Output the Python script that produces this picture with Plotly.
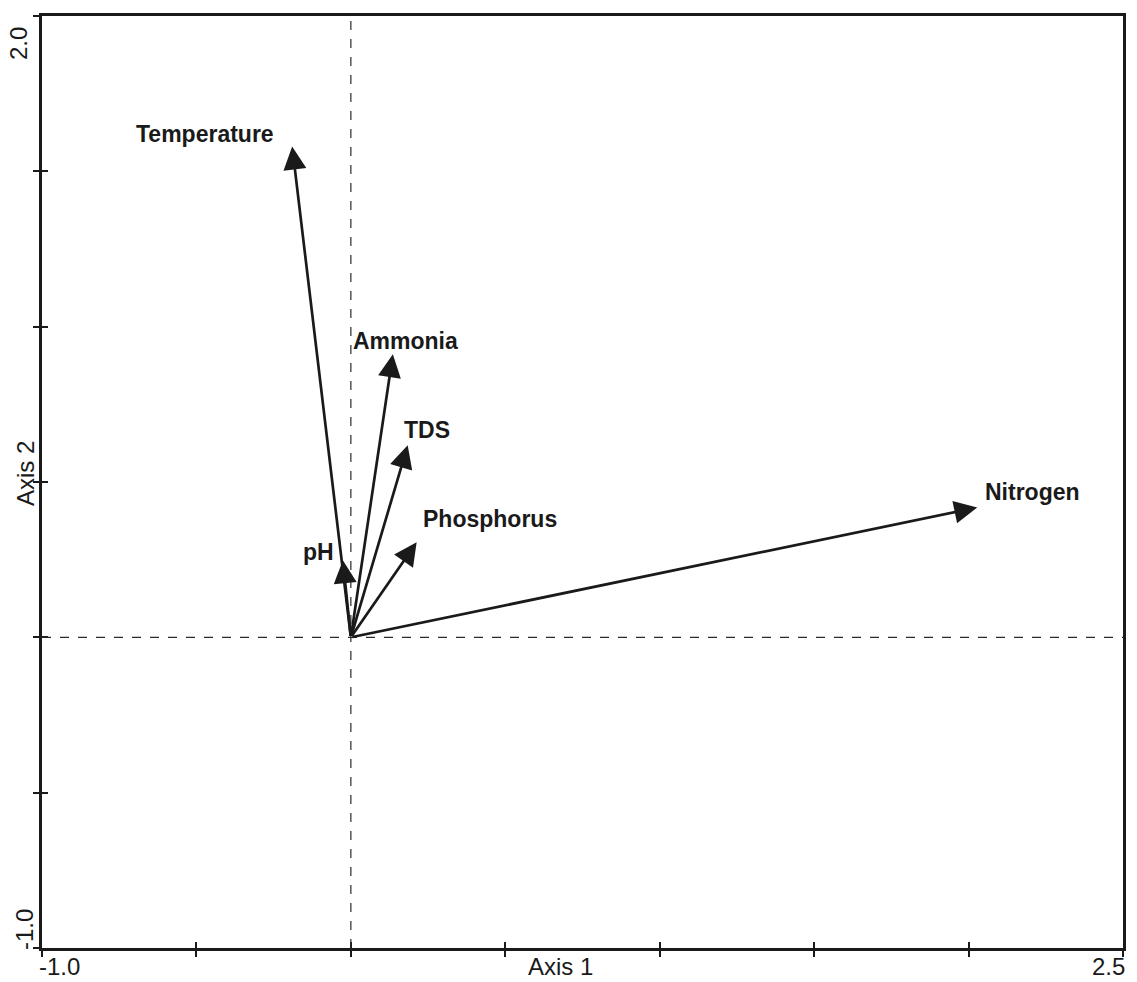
import plotly.graph_objects as go

# Biplot vectors for environmental variables (Axis 1, Axis 2 scores)
variables = ["Temperature", "Ammonia", "TDS", "Phosphorus", "pH", "Nitrogen"]
axis1_scores = [-0.19, 0.136, 0.184, 0.213, -0.026, 2.028]
axis2_scores = [1.58, 0.911, 0.618, 0.306, 0.248, 0.418]

# Label offsets from arrow tips (pixels)
label_dx = [-87, 13, 19, 73, -24, 55]
label_dy = [12, 13, 15, 23, 8, 15]

x_range = [-1.0, 2.5]
y_range = [-1.0, 2.0]
x_ticks = [-1.0, -0.5, 0.0, 0.5, 1.0, 1.5, 2.0, 2.5]
y_ticks = [-1.0, -0.5, 0.0, 0.5, 1.0, 1.5, 2.0]

fig = go.Figure()

# invisible trace to anchor the axes
fig.add_trace(go.Scatter(x=[0], y=[0], mode="markers",
                         marker=dict(size=1, color="rgba(0,0,0,0)"),
                         hoverinfo="skip", showlegend=False))

axis_common = dict(showgrid=False, zeroline=False, showline=True,
                   linecolor="#1a1a1a", linewidth=2.5, mirror=True,
                   ticks="outside", ticklen=6, tickwidth=2, tickcolor="#1a1a1a",
                   showticklabels=False)

fig.update_layout(
    width=1137, height=982,
    margin=dict(l=42, r=11, t=16, b=34),
    paper_bgcolor="white", plot_bgcolor="white",
    xaxis=dict(range=x_range, tickvals=x_ticks, **axis_common),
    yaxis=dict(range=y_range, tickvals=y_ticks, **axis_common),
    # second pair of axes gives ticks that cross the frame line
    xaxis2=dict(range=x_range, tickvals=x_ticks, overlaying="x", side="bottom",
                showgrid=False, zeroline=False, showline=False,
                ticks="inside", ticklen=6, tickwidth=2, tickcolor="#1a1a1a",
                showticklabels=False),
    yaxis2=dict(range=y_range, tickvals=y_ticks, overlaying="y", side="left",
                showgrid=False, zeroline=False, showline=False,
                ticks="inside", ticklen=6, tickwidth=2, tickcolor="#1a1a1a",
                showticklabels=False),
    showlegend=False,
    font=dict(family="Liberation Sans, Arial, sans-serif", color="#1a1a1a"),
)

fig.add_trace(go.Scatter(x=[0], y=[0], xaxis="x2", yaxis="y2", mode="markers",
                         marker=dict(size=1, color="rgba(0,0,0,0)"),
                         hoverinfo="skip", showlegend=False))

# dashed reference lines through the origin
dash_style = dict(color="#2a2a2a", width=1.2, dash="dash")
fig.add_shape(type="line", xref="x", yref="paper", x0=0, x1=0, y0=0, y1=1, line=dash_style)
fig.add_shape(type="line", xref="paper", yref="y", x0=0, x1=1, y0=0, y1=0, line=dash_style)

# vectors from the origin
for name, xv, yv, dx, dy in zip(variables, axis1_scores, axis2_scores, label_dx, label_dy):
    fig.add_annotation(x=xv, y=yv, ax=0, ay=0, xref="x", yref="y", axref="x", ayref="y",
                       text="", showarrow=True, arrowhead=2, arrowsize=1.7,
                       arrowwidth=2.7, arrowcolor="#1a1a1a", standoff=0)
    fig.add_annotation(x=xv, y=yv, xref="x", yref="y", text=f"<b>{name}</b>",
                       showarrow=False, xanchor="center", yanchor="middle",
                       xshift=dx, yshift=dy,
                       font=dict(size=23, color="#1a1a1a"))

# axis titles and end-point tick labels
fig.add_annotation(x=(562 - 42) / 1084, y=-(967 - 948) / 932, xref="paper", yref="paper",
                   text="Axis 1", showarrow=False, xanchor="center", yanchor="middle",
                   font=dict(size=24))
fig.add_annotation(x=-(42 - 25) / 1084, y=(948 - 474) / 932, xref="paper", yref="paper",
                   text="Axis 2", showarrow=False, xanchor="center", yanchor="middle",
                   textangle=-90, font=dict(size=24))
fig.add_annotation(x=(60 - 42) / 1084, y=-(967 - 948) / 932, xref="paper", yref="paper",
                   text=f"{x_range[0]:.1f}", showarrow=False, xanchor="center", yanchor="middle",
                   font=dict(size=24))
fig.add_annotation(x=(1111 - 42) / 1084, y=-(966 - 948) / 932, xref="paper", yref="paper",
                   text=f"{x_range[1]:.1f}", showarrow=False, xanchor="center", yanchor="middle",
                   font=dict(size=24))
fig.add_annotation(x=-(42 - 18) / 1084, y=(948 - 44) / 932, xref="paper", yref="paper",
                   text=f"{y_range[1]:.1f}", showarrow=False, xanchor="center", yanchor="middle",
                   textangle=-90, font=dict(size=24))
fig.add_annotation(x=-(42 - 24) / 1084, y=(948 - 930) / 932, xref="paper", yref="paper",
                   text=f"{y_range[0]:.1f}", showarrow=False, xanchor="center", yanchor="middle",
                   textangle=-90, font=dict(size=24))

fig.write_html("out.html")
